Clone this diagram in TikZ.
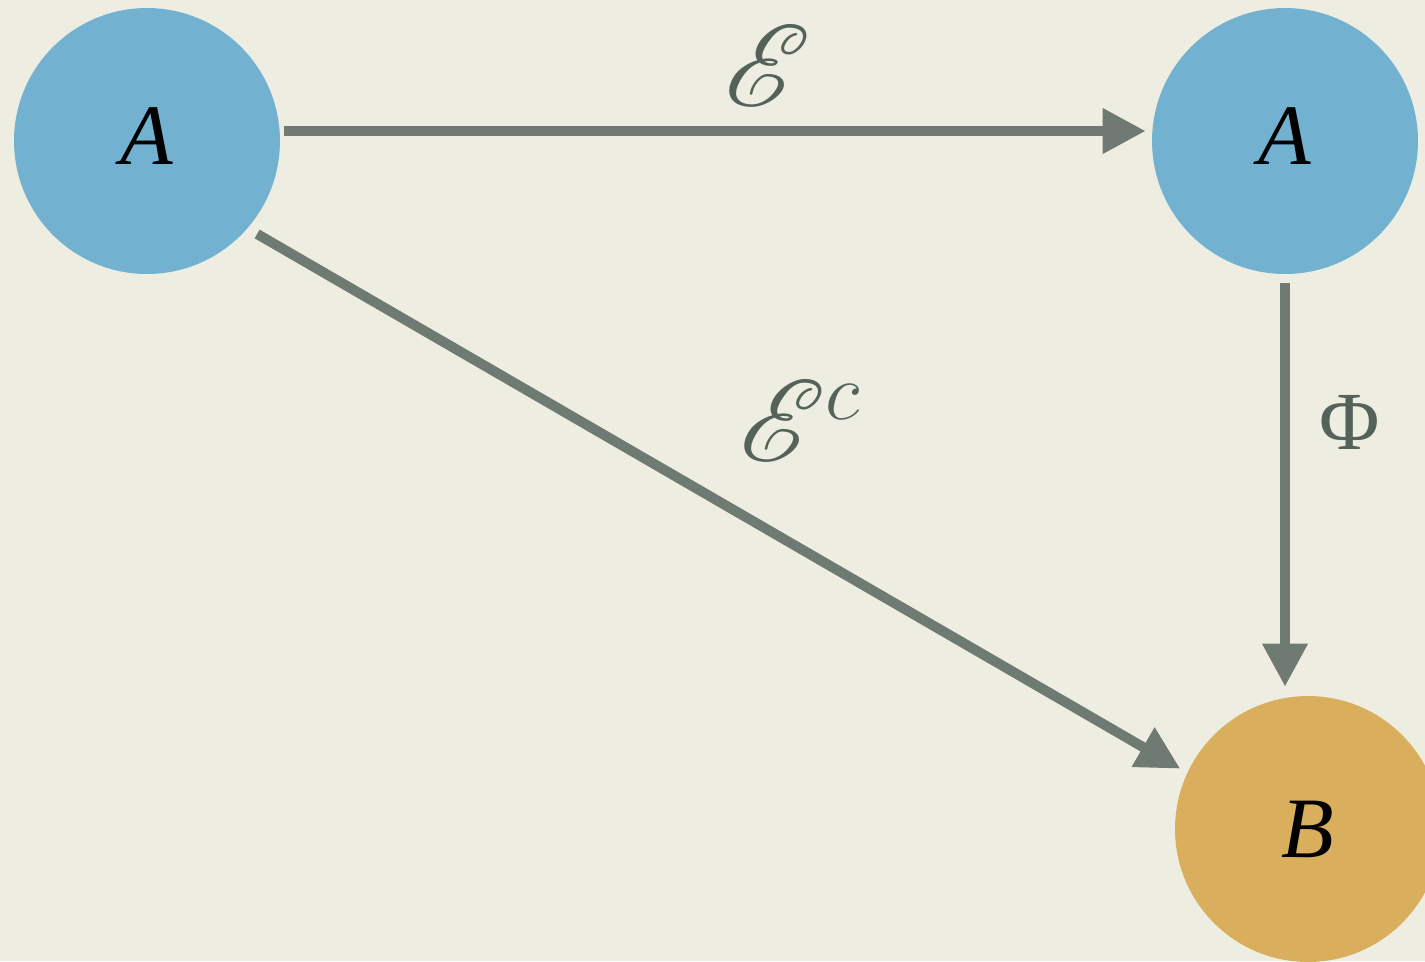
\RequirePackage{fix-cm}
\documentclass[tikz,border=0pt]{standalone}
\usepackage{amsmath}
\usepackage{mathrsfs}
\DeclareFontFamily{U}{rsfs}{\skewchar\font127 }
\DeclareFontShape{U}{rsfs}{m}{n}{<-6>rsfs5<6-8>rsfs7<8->rsfs10}{}
\usepackage{fontspec}
\setmainfont{Liberation Serif}
\usepackage{xcolor}
\usepackage{tikz}
\usetikzlibrary{arrows.meta}

\definecolor{paper}{HTML}{EEEDE1}
\definecolor{setblue}{HTML}{72B2D0}
\definecolor{setgold}{HTML}{D9AE5C}
\definecolor{arrowgray}{HTML}{6F7A72}
\definecolor{labelgray}{HTML}{55625A}

\begin{document}
\begin{tikzpicture}[
  x=0.02cm, y=-0.02cm,
  set/.style={circle, minimum size=5.32cm, inner sep=0pt,
    font=\fontsize{49}{50}\selectfont\itshape},
  lbl/.style={text=labelgray, inner sep=0pt},
  arr/.style={-{Triangle[length=0.86cm, width=0.86cm]}, line width=0.2cm, draw=arrowgray, fill=arrowgray}
]
\fill[paper] (0,0) rectangle (1425,961);
\useasboundingbox (0,0) rectangle (1425,961);

\node[set, fill=setblue] at (147,141)  (srcA) {\raisebox{0.2cm}{A}};
\node[set, fill=setblue] at (1285,141) (tgtA) {\raisebox{0.2cm}{A}};
\node[set, fill=setgold] at (1308,829) (outB) {B};

\node[lbl, font=\fontsize{66}{68}\selectfont] at (768,66)  (chan)  {$\mathscr{E}$};
\node[lbl, font=\fontsize{66}{68}\selectfont] at (800,421) (comp)  {$\mathscr{E}^{c}$};
\node[lbl, font=\fontsize{47}{50}\selectfont] at (1350,422) (phi)  {Φ};

\draw[arr, shorten <=0.08cm, shorten >=0.12cm] ([yshift=0.2cm]srcA.east) -- ([yshift=0.2cm]tgtA.west);
\draw[arr, shorten <=0.18cm, shorten >=0.18cm] (tgtA.south) -- (tgtA.south |- outB.north);
\draw[arr, shorten <=0.22cm, shorten >=0.16cm] (srcA.-41) -- (outB.155);
\end{tikzpicture}
\end{document}
